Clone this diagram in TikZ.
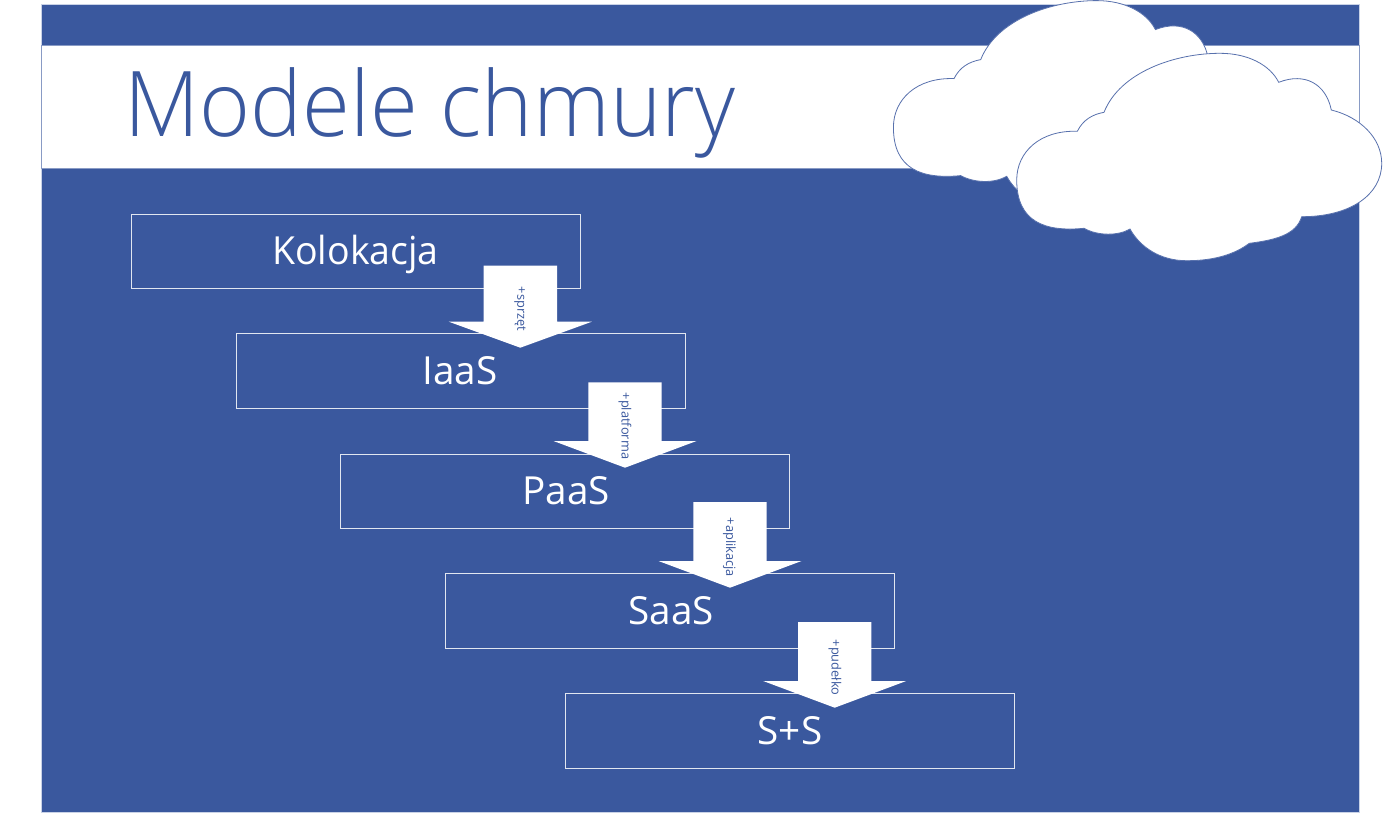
\documentclass[tikz,border=0pt]{standalone}
\usepackage{fontspec}
\setmainfont{Open Sans Light}
\newfontfamily\smallfont{Open Sans}
\definecolor{slide}{HTML}{3A589E}
\definecolor{edge}{HTML}{C9D2E6}
\tikzset{
  x=0.75pt,y=-0.75pt,
  bandbox/.style={draw=slide!60,line width=0.75pt,fill=white},
  modelbox/.style={draw=white!85!slide,line width=0.75pt,fill=none,anchor=north west,minimum width=336.8pt,inner sep=0pt},
  modellabel/.style={text=white,font=\smallfont\fontsize{29}{32}\selectfont,anchor=base,inner sep=0pt},
  blockarrow/.style={fill=white,draw=none},
  arrowlabel/.style={text=slide,font=\smallfont\fontsize{9.6}{10}\selectfont,rotate=-90,anchor=west,inner sep=0pt},
  cloudshape/.style={fill=white,draw=slide!85,line width=0.6pt},
}
\newcommand{\cloudpath}{%
  (1077.3,131.3) .. controls (1083,120) and (1092,114.5) .. (1104,112.3)
  .. controls (1120,72) and (1175,53.3) .. (1220,53.3)
  .. controls (1248,53.3) and (1270,65) .. (1278.7,82.3)
  .. controls (1305,72) and (1326,84) .. (1331.3,110)
  .. controls (1360,117) and (1381.7,138) .. (1381.7,163.3)
  .. controls (1381.7,195) and (1350,216.7) .. (1301.7,216.7)
  .. controls (1296,235) and (1275,240) .. (1249.3,243.3)
  .. controls (1235,254) and (1215,260.7) .. (1186.7,260.7)
  .. controls (1160,260.7) and (1140,247) .. (1130,229)
  .. controls (1118,236) and (1098,236) .. (1084,228.3)
  .. controls (1045,232) and (1016.7,222) .. (1016.7,180)
  .. controls (1016.7,152) and (1040,130) .. (1077.3,131.3) -- cycle}
\newcommand{\downarrowat}[4]{% centre x, top y, shoulder y, tip y
  \fill[blockarrow] (#1-36.7,#2) -- (#1+36.7,#2) -- (#1+36.7,#3) -- (#1+71.5,#3)
    -- (#1,#4) -- (#1-71.5,#3) -- (#1-36.7,#3) -- (#1-36.7,#2) -- cycle;}
\begin{document}
\begin{tikzpicture}
\useasboundingbox (0,0) rectangle (1383,814);
\fill[white] (0,0) rectangle (1383,814);
\fill[slide,draw=edge,line width=0.5pt] (41.5,4.5) rectangle (1359,812);
\node[bandbox,anchor=north west,minimum width=988.5pt,minimum height=92.4pt,inner sep=0pt] (band) at (41,45.2) {};
\node[anchor=base west,text=slide,font=\fontsize{68}{70}\selectfont,inner sep=0pt,xscale=0.96] (title) at (124.5,136) {Modele chmury};

\node[modelbox,minimum height=55.8pt] (kol) at (130.5,213.7) {};
\node[modelbox,minimum height=56.4pt] (iaas) at (235.5,332.8) {};
\node[modelbox,minimum height=55.8pt] (paas) at (340,453.5) {};
\node[modelbox,minimum height=56.2pt] (saas) at (445,573.2) {};
\node[modelbox,minimum height=56.4pt] (ss) at (564.7,692.7) {};

\node[modellabel,xscale=0.97] (lkol) at (355.5,264) {Kolokacja};
\node[modellabel] (liaas) at (460,384) {IaaS};
\node[modellabel] (lpaas) at (566,504) {PaaS};
\node[modellabel] (lsaas) at (671,624) {SaaS};
\node[modellabel] (lss) at (790,744) {S+S};

\downarrowat{520.3}{265.7}{321.7}{347.7}
\downarrowat{625}{382.3}{441}{467.7}
\downarrowat{730}{502}{561}{587.7}
\downarrowat{834.7}{622}{681}{707.7}

\node[arrowlabel] (a1) at (520,286.5) {+sprzęt};
\node[arrowlabel] (a2) at (625,392.5) {+platforma};
\node[arrowlabel] (a3) at (729.5,517.5) {+aplikacja};
\node[arrowlabel] (a4) at (835,639.5) {+pudełko};

\begin{scope}[shift={(-123.3,-52.7)}]
\path[cloudshape] \cloudpath;
\end{scope}
\path[cloudshape] \cloudpath;
\end{tikzpicture}
\end{document}
